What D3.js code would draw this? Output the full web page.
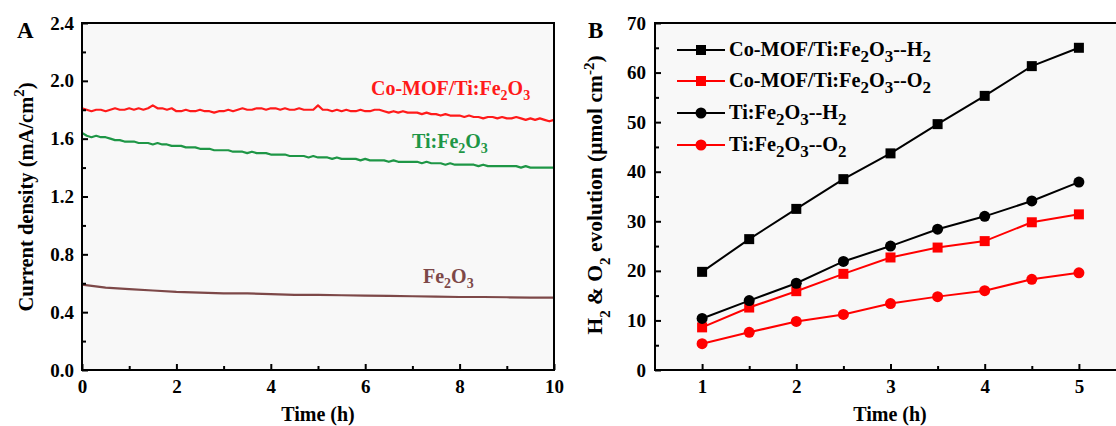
<!DOCTYPE html>
<html><head><meta charset="utf-8">
<script src="https://cdn.jsdelivr.net/npm/d3@7"></script>
<style>
html,body{margin:0;padding:0;background:#fff;}
svg{display:block;}
text{font-family:"Liberation Serif","Times New Roman",serif;font-weight:bold;fill:#000;}
</style></head>
<body>
<svg id="chart" width="1116" height="426"></svg>
<script>
// ---------- Panel A data (current density vs time) ----------
const timeStepA = 0.1; // h, sampling of the two upper traces
const coMofCurrent = [
1.81,1.80,1.79,1.80,1.80,1.79,1.80,1.81,1.80,1.80,1.81,
1.80,1.81,1.80,1.81,1.83,1.81,1.81,1.80,1.81,1.79,
1.79,1.80,1.79,1.79,1.80,1.79,1.79,1.78,1.79,1.79,
1.80,1.79,1.80,1.81,1.80,1.80,1.81,1.81,1.80,1.81,
1.81,1.80,1.81,1.80,1.80,1.81,1.80,1.80,1.80,1.83,
1.80,1.80,1.79,1.80,1.79,1.80,1.79,1.79,1.80,1.79,
1.79,1.80,1.80,1.79,1.78,1.79,1.78,1.79,1.78,1.78,
1.78,1.77,1.78,1.77,1.77,1.76,1.77,1.76,1.76,1.76,
1.75,1.76,1.75,1.75,1.74,1.75,1.75,1.74,1.75,1.74,
1.74,1.75,1.74,1.73,1.74,1.73,1.74,1.73,1.72,1.73];
const tiCurrent = [
1.64,1.62,1.61,1.62,1.61,1.61,1.60,1.59,1.59,1.58,1.58,
1.58,1.57,1.57,1.57,1.56,1.57,1.56,1.56,1.55,1.55,
1.55,1.54,1.54,1.54,1.53,1.53,1.53,1.52,1.52,1.52,
1.52,1.51,1.51,1.51,1.50,1.51,1.50,1.50,1.50,1.49,
1.49,1.49,1.49,1.48,1.48,1.48,1.48,1.47,1.48,1.47,
1.47,1.47,1.46,1.47,1.46,1.46,1.46,1.46,1.45,1.46,
1.45,1.45,1.45,1.45,1.44,1.45,1.44,1.44,1.44,1.44,
1.44,1.43,1.44,1.43,1.43,1.43,1.42,1.43,1.42,1.42,
1.42,1.42,1.42,1.41,1.42,1.41,1.41,1.41,1.41,1.41,
1.41,1.41,1.40,1.41,1.40,1.40,1.40,1.40,1.40,1.40];
const timeStepFe = 0.5;
const fe2o3Current = [0.59,0.57,0.56,0.55,0.54,0.535,0.53,0.53,0.525,0.52,0.52,0.517,0.515,0.513,0.51,0.508,0.505,0.505,0.503,0.50,0.50];
const ticksAx = [0,2,4,6,8,10];
const ticksAy = [0.0,0.4,0.8,1.2,1.6,2.0,2.4];

// ---------- Panel B data (gas evolution) ----------
const timeB = [1,1.5,2,2.5,3,3.5,4,4.5,5];
const coMofH2 = [19.8,26.4,32.5,38.5,43.7,49.6,55.3,61.3,65.0];
const coMofO2 = [8.6,12.6,15.9,19.4,22.7,24.7,26.0,29.8,31.4];
const tiH2 = [10.4,14.0,17.5,21.9,25.0,28.4,31.0,34.1,37.9];
const tiO2 = [5.3,7.6,9.8,11.2,13.4,14.8,16.0,18.3,19.6];
const ticksBx = [1,2,3,4,5];
const ticksBy = [0,10,20,30,40,50,60,70];
// rich-text pieces: [text, mode] mode: n normal, sub, sup
const legendLabels = [
  [["Co-MOF/Ti:Fe","n"],["2","sub"],["O","n"],["3","sub"],["--H","n"],["2","sub"]],
  [["Co-MOF/Ti:Fe","n"],["2","sub"],["O","n"],["3","sub"],["--O","n"],["2","sub"]],
  [["Ti:Fe","n"],["2","sub"],["O","n"],["3","sub"],["--H","n"],["2","sub"]],
  [["Ti:Fe","n"],["2","sub"],["O","n"],["3","sub"],["--O","n"],["2","sub"]]
];

const svg = d3.select("#chart");
const bgPlot = "#f8f8f8";
const tickFont = 19;

function rich(sel, pieces, subScale, shift){
  let prev = "n";
  pieces.forEach(([t,m]) => {
    const ts = sel.append("tspan").text(t);
    const curOff = m==="sub" ? shift : (m==="sup" ? -shift : 0);
    const prevOff = prev==="sub" ? shift : (prev==="sup" ? -shift : 0);
    const dy = curOff - prevOff;
    if (dy !== 0) ts.attr("dy", dy);
    if (m !== "n") ts.attr("font-size", subScale);
    prev = m;
  });
}

// ================= Panel A =================
const A = {l:82, r:554, t:23, b:370};
const xA = d3.scaleLinear().domain([0,10]).range([A.l, A.r]);
const yA = d3.scaleLinear().domain([0,2.4]).range([A.b, A.t]);
svg.append("rect").attr("x",A.l).attr("y",A.t).attr("width",A.r-A.l).attr("height",A.b-A.t).attr("fill",bgPlot);

const lineA = d3.line().x(d=>xA(d[0])).y(d=>yA(d[1]));
const seriesA = [
  {vals: coMofCurrent, step: timeStepA, color:"#ff1a1a"},
  {vals: tiCurrent, step: timeStepA, color:"#1e9646"},
  {vals: fe2o3Current, step: timeStepFe, color:"#7d4848"}
];
seriesA.forEach(s => {
  svg.append("path").datum(s.vals.map((v,i)=>[i*s.step, v]))
    .attr("d", lineA).attr("fill","none").attr("stroke", s.color)
    .attr("stroke-width", 2.2).attr("stroke-linejoin","round");
});

// axes A
const gAx = svg.append("g").attr("transform",`translate(0,${A.b})`)
  .call(d3.axisBottom(xA).tickValues(ticksAx).tickFormat(d3.format("d")).tickSizeInner(-6).tickSizeOuter(0).tickPadding(10));
const gAxm = svg.append("g").attr("transform",`translate(0,${A.b})`)
  .call(d3.axisBottom(xA).tickValues([1,3,5,7,9]).tickFormat("").tickSizeInner(-4).tickSizeOuter(0));
const gAy = svg.append("g").attr("transform",`translate(${A.l},0)`)
  .call(d3.axisLeft(yA).tickValues(ticksAy).tickFormat(d3.format(".1f")).tickSizeInner(-6).tickSizeOuter(0).tickPadding(8));
const gAym = svg.append("g").attr("transform",`translate(${A.l},0)`)
  .call(d3.axisLeft(yA).tickValues([0.2,0.6,1.0,1.4,1.8,2.2]).tickFormat("").tickSizeInner(-4).tickSizeOuter(0));

// ================= Panel B =================
const B = {l:655, r:1126, t:23, b:370};
const xB = d3.scaleLinear().domain([0.5,5.5]).range([B.l, B.r]);
const yB = d3.scaleLinear().domain([0,70]).range([B.b, B.t]);
svg.append("rect").attr("x",B.l).attr("y",B.t).attr("width",B.r-B.l).attr("height",B.b-B.t).attr("fill",bgPlot);

const seriesB = [
  {vals: coMofH2, color:"#000", shape:"square"},
  {vals: coMofO2, color:"#ff0000", shape:"square"},
  {vals: tiH2, color:"#000", shape:"circle"},
  {vals: tiO2, color:"#ff0000", shape:"circle"}
];
const lineB = d3.line().x(d=>xB(d[0])).y(d=>yB(d[1]));
function marker(g, shape, color, cx, cy){
  if (shape==="square") {
    g.append("rect").attr("x",cx-5).attr("y",cy-5).attr("width",10).attr("height",10).attr("fill",color);
  } else {
    g.append("circle").attr("cx",cx).attr("cy",cy).attr("r",5.5).attr("fill",color);
  }
}
seriesB.forEach(s => {
  const pts = s.vals.map((v,i)=>[timeB[i], v]);
  svg.append("path").datum(pts).attr("d", lineB).attr("fill","none")
    .attr("stroke", s.color).attr("stroke-width", 2);
  const g = svg.append("g");
  pts.forEach(p => marker(g, s.shape, s.color, xB(p[0]), yB(p[1])));
});

const gBx = svg.append("g").attr("transform",`translate(0,${B.b})`)
  .call(d3.axisBottom(xB).tickValues(ticksBx).tickFormat(d3.format("d")).tickSizeInner(-6).tickSizeOuter(0).tickPadding(10));
const gBxm = svg.append("g").attr("transform",`translate(0,${B.b})`)
  .call(d3.axisBottom(xB).tickValues([1.5,2.5,3.5,4.5]).tickFormat("").tickSizeInner(-4).tickSizeOuter(0));
const gBy = svg.append("g").attr("transform",`translate(${B.l},0)`)
  .call(d3.axisLeft(yB).tickValues(ticksBy).tickFormat(d3.format("d")).tickSizeInner(-6).tickSizeOuter(0).tickPadding(9));
const gBym = svg.append("g").attr("transform",`translate(${B.l},0)`)
  .call(d3.axisLeft(yB).tickValues([5,15,25,35,45,55,65]).tickFormat("").tickSizeInner(-4).tickSizeOuter(0));

[gAx,gAxm,gAy,gAym,gBx,gBxm,gBy,gBym].forEach(g=>{
  g.select(".domain").remove();
  g.selectAll(".tick line").attr("stroke","#000").attr("stroke-width",2);
  g.selectAll(".tick text").attr("font-family","'Liberation Serif',serif").attr("font-weight","bold").attr("font-size",tickFont).attr("fill","#000");
});

// frames
[A,B].forEach(P=>{
  svg.append("rect").attr("x",P.l).attr("y",P.t).attr("width",P.r-P.l).attr("height",P.b-P.t)
    .attr("fill","none").attr("stroke","#000").attr("stroke-width",2);
});

// legend B
const legX0 = 677, legX1 = 725, legTx = 729;
const legY = [50, 81, 113, 145];
seriesB.forEach((s,i)=>{
  const g = svg.append("g");
  g.append("line").attr("x1",legX0).attr("x2",legX1).attr("y1",legY[i]).attr("y2",legY[i]).attr("stroke",s.color).attr("stroke-width",2);
  marker(g, s.shape, s.color, (legX0+legX1)/2, legY[i]);
  const t = g.append("text").attr("x",legTx).attr("y",legY[i]+6).attr("font-size",20.3);
  rich(t, legendLabels[i], 17, 6);
});

// panel A series labels
const labelA = [
  {pieces:[["Co-MOF/Ti:Fe","n"],["2","sub"],["O","n"],["3","sub"]], x:371, y:95, color:"#ff1a1a"},
  {pieces:[["Ti:Fe","n"],["2","sub"],["O","n"],["3","sub"]], x:412, y:148, color:"#1e9646"},
  {pieces:[["Fe","n"],["2","sub"],["O","n"],["3","sub"]], x:423, y:283, color:"#7d4848"}
];
labelA.forEach(L=>{
  const t = svg.append("text").attr("x",L.x).attr("y",L.y).attr("font-size",20).style("fill",L.color);
  rich(t, L.pieces, 14, 5);
});

// axis titles
svg.append("text").attr("x",(A.l+A.r)/2).attr("y",421).attr("text-anchor","middle").attr("font-size",20).text("Time (h)");
svg.append("text").attr("x",890).attr("y",421).attr("text-anchor","middle").attr("font-size",20).text("Time (h)");

const ytA = svg.append("text").attr("transform",`translate(33,197) rotate(-90)`).attr("text-anchor","middle").attr("font-size",20.5);
rich(ytA, [["Current density (mA/cm","n"],["2","sup"],[")","n"]], 15, 9);
const ytB = svg.append("text").attr("transform",`translate(602,195) rotate(-90)`).attr("text-anchor","middle").attr("font-size",21.5);
rich(ytB, [["H","n"],["2","sub"],[" & O","n"],["2","sub"],[" evolution (μmol cm","n"],["-2","sup"],[")","n"]], 15, 8);

// panel letters
svg.append("text").attr("x",17).attr("y",38).attr("font-size",23).text("A");
svg.append("text").attr("x",588).attr("y",38).attr("font-size",23).text("B");
</script>
</body></html>
